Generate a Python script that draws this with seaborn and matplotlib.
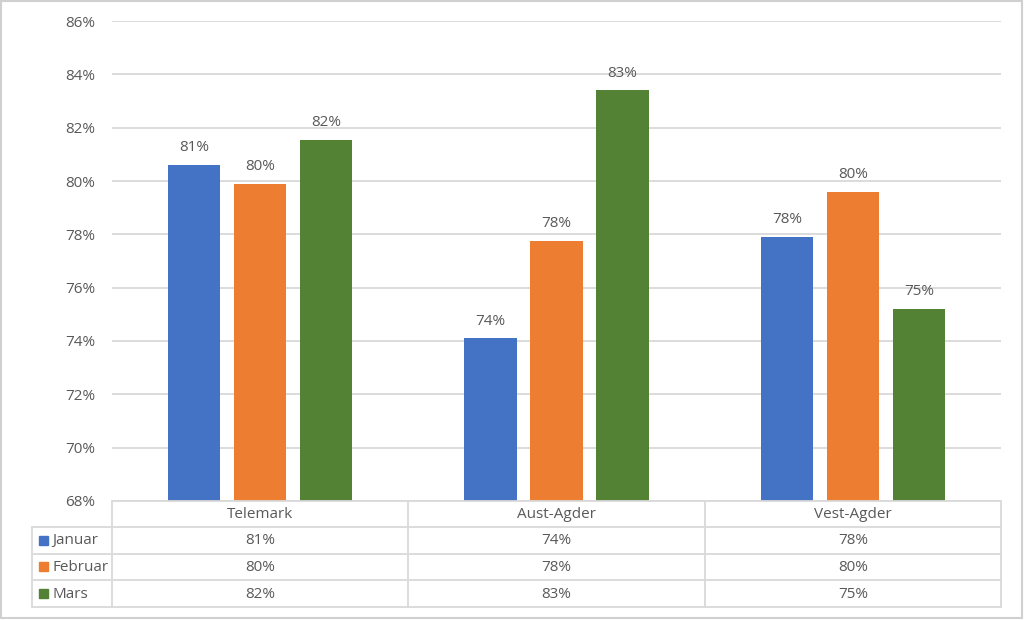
import matplotlib
matplotlib.use("Agg")
import matplotlib.pyplot as plt
import seaborn as sns
import pandas as pd
from matplotlib.patches import Rectangle

categories = ["Telemark", "Aust-Agder", "Vest-Agder"]
series = ["Januar", "Februar", "Mars"]
januar = [80.6, 74.1, 77.9]
februar = [79.9, 77.75, 79.6]
mars = [81.55, 83.4, 75.2]
yticks = [68, 70, 72, 74, 76, 78, 80, 82, 84, 86]
colors = ["#4472C4", "#ED7D31", "#548235"]

sns.set_theme(style="white")
plt.rcParams["font.family"] = ["Open Sans", "DejaVu Sans"]
TXT = "#595959"
GRID = "#D9D9D9"
FS = 11

rows = []
for s, vals in zip(series, [januar, februar, mars]):
    for c, v in zip(categories, vals):
        rows.append({"Region": c, "Måned": s, "Verdi": v})
df = pd.DataFrame(rows)

W, H = 1024, 620
fig = plt.figure(figsize=(W / 100, H / 100), dpi=100)
fig.patch.set_facecolor("white")

# main axes: x 112..1001, y 21..501 px
ax = fig.add_axes([112 / W, 1 - 501 / H, (1001 - 112) / W, (501 - 21) / H])
sns.barplot(data=df, x="Region", y="Verdi", hue="Måned", palette=colors,
            width=0.668, gap=0.21, ax=ax, legend=False, saturation=1,
            edgecolor="none")
ax.set_ylim(68, 86)
ax.set_xlim(-0.5, 2.5)
ax.set_yticks(yticks)
ax.set_yticklabels([f"{t}%" for t in yticks], color=TXT, fontsize=FS)
ax.set_xticks([])
ax.set_xlabel("")
ax.set_ylabel("")
ax.tick_params(axis="y", length=0, pad=12)
ax.yaxis.grid(True, color=GRID, linewidth=1.3)
ax.set_axisbelow(True)
for sp in ax.spines.values():
    sp.set_visible(False)

for cont in ax.containers:
    for bar in cont:
        h = bar.get_height()
        ax.annotate(f"{h:.0f}%", (bar.get_x() + bar.get_width() / 2, h),
                    xytext=(0, 7), textcoords="offset points",
                    ha="center", va="bottom", fontsize=FS, color=TXT)

# data table axes in pixel coordinates
tax = fig.add_axes([0, 0, 1, 1], facecolor="none")
tax.set_xlim(0, W)
tax.set_ylim(H, 0)
tax.axis("off")

col_x = [112, 408.3, 704.7, 1001]
row_y = [501, 527, 553.5, 580, 607]
lk = dict(color=GRID, linewidth=1.3)
tax.plot([112, 1001], [row_y[0], row_y[0]], **lk)
for y in row_y[1:]:
    tax.plot([32, 1001], [y, y], **lk)
tax.plot([32, 32], [row_y[1], row_y[4]], **lk)
for x in col_x:
    tax.plot([x, x], [row_y[0], row_y[4]], **lk)

for i, c in enumerate(categories):
    tax.text((col_x[i] + col_x[i + 1]) / 2, (row_y[0] + row_y[1]) / 2 + 1, c,
             ha="center", va="center", fontsize=FS, color=TXT)
for r, (s, vals, col) in enumerate(zip(series, [januar, februar, mars], colors)):
    yc = (row_y[r + 1] + row_y[r + 2]) / 2
    tax.add_patch(Rectangle((39, yc - 4.5), 9, 9, color=col))
    tax.text(52, yc + 0.5, s, ha="left", va="center", fontsize=FS, color=TXT)
    for i, v in enumerate(vals):
        tax.text((col_x[i] + col_x[i + 1]) / 2, yc + 0.5, f"{v:.0f}%",
                 ha="center", va="center", fontsize=FS, color=TXT)

# outer chart border
tax.add_patch(Rectangle((1, 1), W - 3, H - 3, fill=False, edgecolor="#D0D0D0", linewidth=1.5))

fig.savefig("out.png", dpi=100, facecolor="white")
